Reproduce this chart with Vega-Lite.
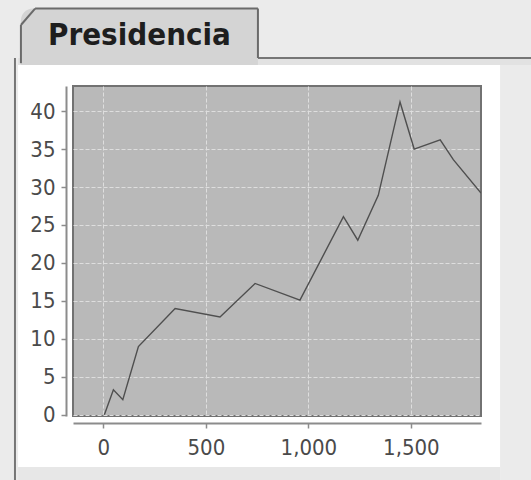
{
  "$schema": "https://vega.github.io/schema/vega-lite/v6.json",
  "width": 408,
  "height": 330,
  "autosize": {"type": "none"},
  "padding": {"left": 73, "top": 86, "right": 50, "bottom": 64},
  "background": "#ffffff",
  "config": {
    "view": {"fill": "#b9b9b9", "stroke": "#727272", "strokeWidth": 2},
    "axis": {
      "domainColor": "#8c8c8c",
      "domainWidth": 2,
      "tickColor": "#8c8c8c",
      "tickWidth": 1.5,
      "tickSize": 5,
      "labelFont": "Liberation Sans Narrow, DejaVu Sans Condensed, sans-serif",
      "labelFontSize": 22,
      "labelColor": "#4a4a4a",
      "gridColor": "#dedede",
      "gridDash": [4, 2],
      "gridWidth": 1
    }
  },
  "layer": [
    {
      "data": {
        "values": [
          {"votos": 5, "valor": 0},
          {"votos": 49, "valor": 3.3},
          {"votos": 95, "valor": 2.0},
          {"votos": 171, "valor": 9.0},
          {"votos": 350, "valor": 14.0},
          {"votos": 569, "valor": 12.9},
          {"votos": 740, "valor": 17.3},
          {"votos": 959, "valor": 15.1},
          {"votos": 1171, "valor": 26.1},
          {"votos": 1241, "valor": 23.0},
          {"votos": 1341, "valor": 28.9},
          {"votos": 1447, "valor": 41.2},
          {"votos": 1516, "valor": 35.0},
          {"votos": 1643, "valor": 36.2},
          {"votos": 1707, "valor": 33.6},
          {"votos": 1842, "valor": 29.2}
        ]
      },
      "mark": {"type": "line", "clip": true, "stroke": "#4f4f4f", "strokeWidth": 1.4},
      "encoding": {
        "x": {
          "field": "votos",
          "type": "quantitative",
          "title": null,
          "scale": {"domain": [-148, 1842], "nice": false, "zero": false},
          "axis": {"orient": "bottom", "offset": 7, "values": [0, 500, 1000, 1500], "format": ",d", "labelPadding": 9, "grid": true, "title": null}
        },
        "y": {
          "field": "valor",
          "type": "quantitative",
          "title": null,
          "scale": {"domain": [-0.15, 43.3], "nice": false, "zero": false},
          "axis": {"orient": "left", "offset": 7, "values": [0, 5, 10, 15, 20, 25, 30, 35, 40], "labelPadding": 6, "grid": true, "title": null}
        }
      }
    },
    {
      "data": {"values": [{}]},
      "mark": {"type": "rect", "clip": false, "fill": "#ebebeb"},
      "encoding": {
        "x": {"datum": -2000, "type": "quantitative", "title": null},
        "x2": {"datum": 3000},
        "y": {"datum": 70, "type": "quantitative", "title": null},
        "y2": {"datum": 46.06}
      }
    },
    {
      "data": {"values": [{}]},
      "mark": {"type": "rect", "clip": false, "fill": "#e2e2e2"},
      "encoding": {
        "x": {"datum": -431, "type": "quantitative", "title": null},
        "x2": {"datum": 3000},
        "y": {"datum": 46.99, "type": "quantitative", "title": null},
        "y2": {"datum": 46.06}
      }
    },
    {
      "data": {"values": [{}]},
      "mark": {"type": "rect", "clip": false, "fill": "#ebebeb"},
      "encoding": {
        "x": {"datum": -2000, "type": "quantitative", "title": null},
        "x2": {"datum": -416},
        "y": {"datum": 46.99, "type": "quantitative", "title": null},
        "y2": {"datum": -20}
      }
    },
    {
      "data": {"values": [{}]},
      "mark": {"type": "rect", "clip": false, "fill": "#ebebeb"},
      "encoding": {
        "x": {"datum": 1935, "type": "quantitative", "title": null},
        "x2": {"datum": 3000},
        "y": {"datum": 46.06, "type": "quantitative", "title": null},
        "y2": {"datum": -20}
      }
    },
    {
      "data": {"values": [{}]},
      "mark": {"type": "rect", "clip": false, "fill": "#e7e7e7"},
      "encoding": {
        "x": {"datum": -416, "type": "quantitative", "title": null},
        "x2": {"datum": 1935},
        "y": {"datum": -6.86, "type": "quantitative", "title": null},
        "y2": {"datum": -20}
      }
    },
    {
      "data": {"values": [{}]},
      "mark": {"type": "rule", "clip": false, "stroke": "#767676", "strokeWidth": 2},
      "encoding": {
        "x": {"datum": -431, "type": "quantitative", "title": null},
        "y": {"datum": 46.99, "type": "quantitative", "title": null},
        "y2": {"datum": -20}
      }
    },
    {
      "data": {"values": [{}]},
      "mark": {"type": "rule", "clip": false, "stroke": "#767676", "strokeWidth": 2},
      "encoding": {
        "x": {"datum": 754, "type": "quantitative", "title": null},
        "x2": {"datum": 3000},
        "y": {"datum": 46.99, "type": "quantitative", "title": null}
      }
    },
    {
      "data": {"values": [{}]},
      "mark": {"type": "rect", "clip": false, "fill": "#d4d4d4", "cornerRadiusTopLeft": 12},
      "encoding": {
        "x": {"datum": -402, "type": "quantitative", "title": null},
        "x2": {"datum": 754},
        "y": {"datum": 53.5, "type": "quantitative", "title": null},
        "y2": {"datum": 46.06}
      }
    },
    {
      "data": {"values": [{}]},
      "mark": {"type": "rule", "clip": false, "stroke": "#6a6a6a", "strokeWidth": 2},
      "encoding": {
        "x": {"datum": -402, "type": "quantitative", "title": null},
        "x2": {"datum": -333},
        "y": {"datum": 51.33, "type": "quantitative", "title": null},
        "y2": {"datum": 53.5}
      }
    },
    {
      "data": {"values": [{}]},
      "mark": {"type": "rule", "clip": false, "stroke": "#6a6a6a", "strokeWidth": 2},
      "encoding": {
        "x": {"datum": -333, "type": "quantitative", "title": null},
        "x2": {"datum": 754},
        "y": {"datum": 53.5, "type": "quantitative", "title": null}
      }
    },
    {
      "data": {"values": [{}]},
      "mark": {"type": "rule", "clip": false, "stroke": "#6a6a6a", "strokeWidth": 2},
      "encoding": {
        "x": {"datum": -402, "type": "quantitative", "title": null},
        "y": {"datum": 51.33, "type": "quantitative", "title": null},
        "y2": {"datum": 46.3}
      }
    },
    {
      "data": {"values": [{}]},
      "mark": {"type": "rule", "clip": false, "stroke": "#6a6a6a", "strokeWidth": 2},
      "encoding": {
        "x": {"datum": 754, "type": "quantitative", "title": null},
        "y": {"datum": 53.5, "type": "quantitative", "title": null},
        "y2": {"datum": 46.99}
      }
    },
    {
      "data": {"values": [{}]},
      "mark": {"type": "text", "clip": false, "align": "left", "baseline": "alphabetic", "font": "DejaVu Sans Condensed, DejaVu Sans, sans-serif", "fontWeight": "bold", "fontSize": 31, "color": "#1e1e1e"},
      "encoding": {
        "x": {"datum": -270, "type": "quantitative", "title": null},
        "y": {"datum": 48.7, "type": "quantitative", "title": null},
        "text": {"value": "Presidencia"}
      }
    }
  ]
}
